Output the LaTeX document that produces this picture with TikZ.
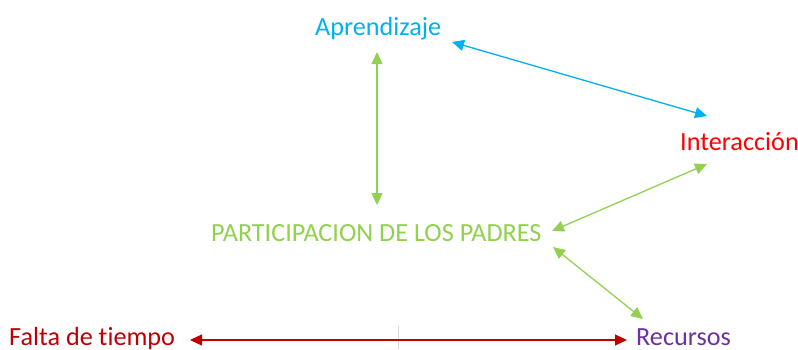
\documentclass[tikz,border=0pt]{standalone}
\usepackage{fontspec}
\setmainfont{Carlito}[Ligatures=NoCommon]
\usetikzlibrary{arrows.meta}
\definecolor{cblue}{HTML}{00B0F0}
\definecolor{cred}{HTML}{FF0000}
\definecolor{cgreen}{HTML}{92D050}
\definecolor{cdred}{HTML}{C00000}
\definecolor{cpurple}{HTML}{7030A0}
\begin{document}
\begin{tikzpicture}[x=1pt,y=-1pt,
  lbl/.style={inner sep=0pt, anchor=base west, font=\fontsize{26.2}{30}\selectfont},
  conn/.style={line width=1.3pt, {Triangle[length=12pt,width=11pt]}-{Triangle[length=12pt,width=11pt]}}]
\useasboundingbox (0,0) rectangle (798,349);
% labels
\node[lbl, text=cblue] (apr) at (315,35) {Aprendizaje};
\node[lbl, text=cred] (int) at (680,150) {Interacción};
\node[lbl, text=cgreen] (par) at (211,241) {PARTICIPACION DE LOS PADRES};
\node[lbl, text=cdred] (fal) at (9,345) {Falta de tiempo};
\node[lbl, text=cpurple] (rec) at (636,345) {Recursos};
% connector end points
\coordinate (aprS) at (377,52);
\coordinate (parN) at (377,205);
\coordinate (aprE) at (452,42);
\coordinate (intN) at (707,116);
\coordinate (intS) at (707,164);
\coordinate (parE) at (552,231);
\coordinate (parSE) at (553,247);
\coordinate (recN) at (643,319);
\coordinate (falE) at (190,340);
\coordinate (recW) at (627,340);
\coordinate (divT) at (398,326);
\coordinate (divB) at (398,349);
% faint divider
\draw[black!15, line width=0.6pt] (divT) -- (divB);
% connectors
\draw[conn, cgreen] (aprS) -- (parN);
\draw[conn, cblue] (aprE) -- (intN);
\draw[conn, cgreen] (parE) -- (intS);
\draw[conn, cgreen] (parSE) -- (recN);
\draw[conn, cdred] (falE) -- (recW);
\end{tikzpicture}
\end{document}
